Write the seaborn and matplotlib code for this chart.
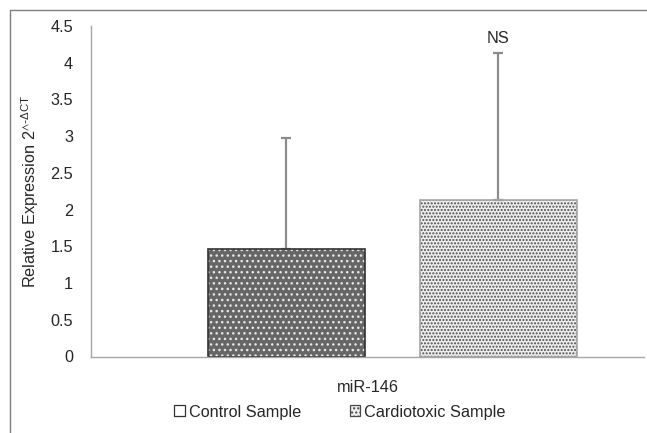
import matplotlib
matplotlib.use("Agg")
import matplotlib.pyplot as plt
from matplotlib.patches import Rectangle, Patch
from matplotlib.lines import Line2D
import seaborn as sns
import pandas as pd

# ---- data ----
categories = ["miR-146"]
samples = ["Control Sample", "Cardiotoxic Sample"]
means = [1.47, 2.13]
sds = [1.50, 2.00]
annotations = ["", "NS"]

sns.set_theme(style="white")
plt.rcParams["font.family"] = ["Liberation Sans", "DejaVu Sans"]
plt.rcParams["mathtext.default"] = "regular"
plt.rcParams["hatch.linewidth"] = 1.0

FS = 11.7
TXT = "#262626"

df = pd.DataFrame({"gene": categories * len(samples), "sample": samples, "value": means})

fig = plt.figure(figsize=(6.47, 4.33), dpi=100)
ax = fig.add_axes([91 / 647, 1 - 356.5 / 433, (644 - 91) / 647, (356.5 - 26) / 433])

face = {"Control Sample": "#666666", "Cardiotoxic Sample": "#eeeeee"}
hatchc = {"Control Sample": "#e8e8e8", "Cardiotoxic Sample": "#4a4a4a"}
edge = {"Control Sample": "#333333", "Cardiotoxic Sample": "#a6a6a6"}
hatches = {"Control Sample": "...", "Cardiotoxic Sample": "....."}

sns.barplot(data=df, x="gene", y="value", hue="sample", hue_order=samples,
            palette=face, width=0.8, gap=0.26, errorbar=None, legend=False, ax=ax)

bars = [p for p in ax.patches]
for p, s, m, sd, ann in zip(bars, samples, means, sds, annotations):
    p.set_hatch(hatches[s])
    p.set_edgecolor(hatchc[s])
    p.set_linewidth(0)
    ax.add_patch(Rectangle(p.get_xy(), p.get_width(), p.get_height(), fill=False,
                           edgecolor=edge[s], linewidth=1.2, zorder=p.get_zorder() + 0.1))
    cx = p.get_x() + p.get_width() / 2
    ax.errorbar([cx], [m], yerr=[[0], [sd]], fmt="none", ecolor="#8c8c8c",
                elinewidth=1.6, capsize=3.6, capthick=1.6, zorder=1)
    if ann:
        ax.annotate(ann, (cx, m + sd), xytext=(0, 5), textcoords="offset points",
                    ha="center", va="bottom", fontsize=FS, color=TXT)

# axis scaling: category at 0, pair spans to match reference
ax.set_xlim(-0.569, 0.475)
ax.set_ylim(0, 4.5)
ax.set_yticks([0, 0.5, 1, 1.5, 2, 2.5, 3, 3.5, 4, 4.5])
ax.set_yticklabels(["0", "0.5", "1", "1.5", "2", "2.5", "3", "3.5", "4", "4.5"])
ax.set_xticks([])
ax.set_xlabel(categories[0], fontsize=FS, color=TXT, labelpad=17)
ax.set_ylabel(r"Relative Expression 2$^{\wedge\text{-}ΔCT}$", fontsize=FS, color=TXT, labelpad=7)
ax.tick_params(axis="y", length=0, labelsize=FS, labelcolor=TXT, pad=13)
for sp in ["top", "right"]:
    ax.spines[sp].set_visible(False)
for sp in ["left", "bottom"]:
    ax.spines[sp].set_color("#a6a6a6")
    ax.spines[sp].set_linewidth(1.0)

# legend
handles = [Patch(facecolor="white", edgecolor="#333333", linewidth=0.9),
           Patch(facecolor="#eeeeee", edgecolor="#4a4a4a", hatch="....", linewidth=0.9)]
fig.legend(handles, samples, loc="center", bbox_to_anchor=(340 / 647, 1 - 412 / 433),
           ncol=2, frameon=False, fontsize=FS, handlelength=0.65, handleheight=0.65,
           handletextpad=0.25, columnspacing=3.0, labelcolor=TXT)

# outer chart frame (left and top edges visible)
fig.add_artist(Line2D([9.5 / 647, 9.5 / 647], [0, 1 - 9.5 / 433], transform=fig.transFigure,
                      color="#7f7f7f", linewidth=1.0))
fig.add_artist(Line2D([9.5 / 647, 1], [1 - 9.5 / 433, 1 - 9.5 / 433], transform=fig.transFigure,
                      color="#7f7f7f", linewidth=1.0))

fig.savefig("out.png", dpi=100)
